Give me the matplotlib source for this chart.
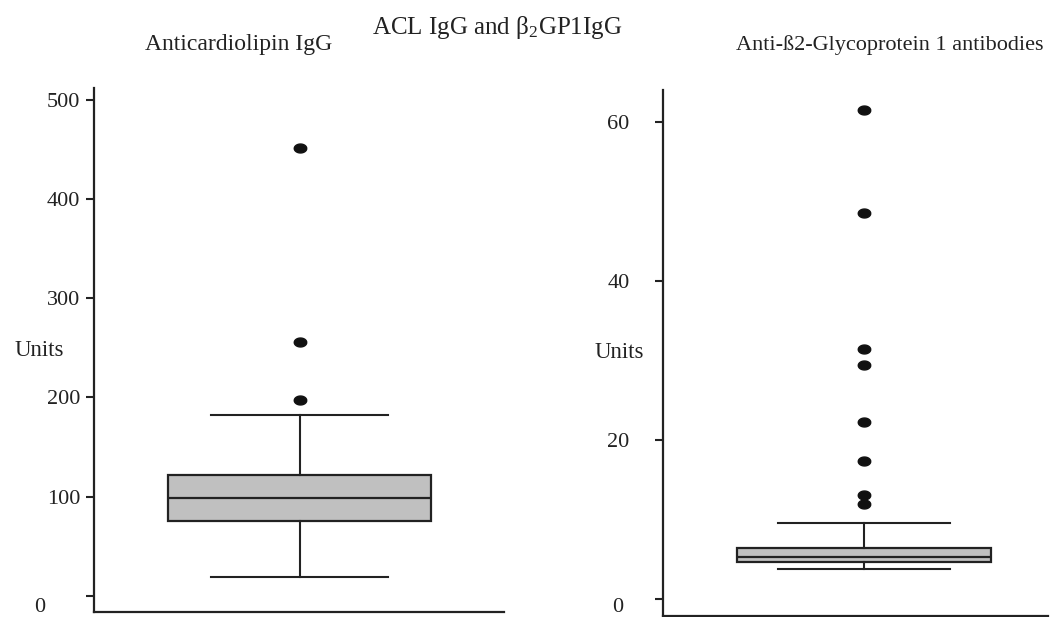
import numpy as np
import matplotlib.pyplot as plt
from matplotlib.path import Path
from matplotlib.transforms import ScaledTranslation

plt.rcParams['font.family'] = ['Liberation Serif', 'DejaVu Serif']

# box statistics
acl_stats = dict(q1=75.6, med=98.5, q3=121.7, whislo=18.9, whishi=182.6)
acl_fliers = [451.5, 256.0, 197.4]
b2_stats = dict(q1=4.69, med=5.32, q3=6.37, whislo=3.77, whishi=9.55)
b2_fliers = [61.5, 48.5, 31.4, 29.4, 22.3, 17.4, 13.1, 12.0]

acl_ticks = [0, 100, 200, 300, 400, 500]
b2_ticks = [0, 20, 40, 60]

title = r"ACL IgG and $\mathregular{\beta_2}$GP1IgG"
acl_title = "Anticardiolipin IgG"
b2_title = "Anti-ß2-Glycoprotein 1 antibodies"
ylabel = "Units"

W, H = 1052, 617
fig = plt.figure(figsize=(W / 100, H / 100), dpi=100)

def px_axes(x0, y0, x1, y1):
    return fig.add_axes([x0 / W, 1 - y1 / H, (x1 - x0) / W, (y1 - y0) / H])

ax1 = px_axes(94, 88, 504, 612)
ax2 = px_axes(663, 90, 1048, 616)

t = np.linspace(0, 2 * np.pi, 40)
ellipse = Path(np.column_stack([1.4 * np.cos(t), np.sin(t)]))

dark = '#222222'

def draw(ax, stats, fliers, pos, width, capw, ylim, ticks, pad, zero_shift, units_x):
    s = dict(stats)
    s['fliers'] = fliers
    ax.bxp([s], positions=[pos], widths=[width], capwidths=[capw],
           patch_artist=True, showfliers=True,
           boxprops=dict(facecolor='#c0c0c0', edgecolor=dark, linewidth=1.6),
           medianprops=dict(color=dark, linewidth=1.6),
           whiskerprops=dict(color=dark, linewidth=1.5),
           capprops=dict(color=dark, linewidth=1.5),
           flierprops=dict(marker=ellipse, markersize=9, markerfacecolor='#111111',
                           markeredgecolor='#111111', linestyle='none'))
    ax.set_xlim(0, 1)
    ax.set_ylim(*ylim)
    ax.set_xticks([])
    ax.set_yticks(ticks)
    ax.set_yticklabels([str(v) for v in ticks])
    ax.tick_params(axis='y', length=6, width=1.5, color=dark, pad=pad,
                   labelsize=16, labelcolor='#222222')
    for side in ['top', 'right']:
        ax.spines[side].set_visible(False)
    for side in ['left', 'bottom']:
        ax.spines[side].set_linewidth(1.6)
        ax.spines[side].set_color(dark)
    zl = ax.get_yticklabels()[0]
    zl.set_transform(zl.get_transform() + ScaledTranslation(zero_shift[0] / 100, zero_shift[1] / 100, fig.dpi_scale_trans))
    ax.text(units_x, 0.5, ylabel, transform=ax.transAxes, ha='center', va='center',
            fontsize=16.5, color='#222222')

draw(ax1, acl_stats, acl_fliers, 0.502, 0.641, 0.432, (-16.4, 512), acl_ticks, 4, (-35, -9), -0.133)
draw(ax2, b2_stats, b2_fliers, 0.522, 0.662, 0.449, (-2.14, 64), b2_ticks, 18, (-6, -6), -0.114)

fig.text(497 / W, 1 - 34 / H, title, ha='center', va='baseline', fontsize=18, color='#222222')
fig.text(239 / W, 1 - 50 / H, acl_title, ha='center', va='baseline', fontsize=17, color='#222222')
fig.text(890 / W, 1 - 50 / H, b2_title, ha='center', va='baseline', fontsize=16, color='#222222')

fig.savefig('out.png', dpi=100)
